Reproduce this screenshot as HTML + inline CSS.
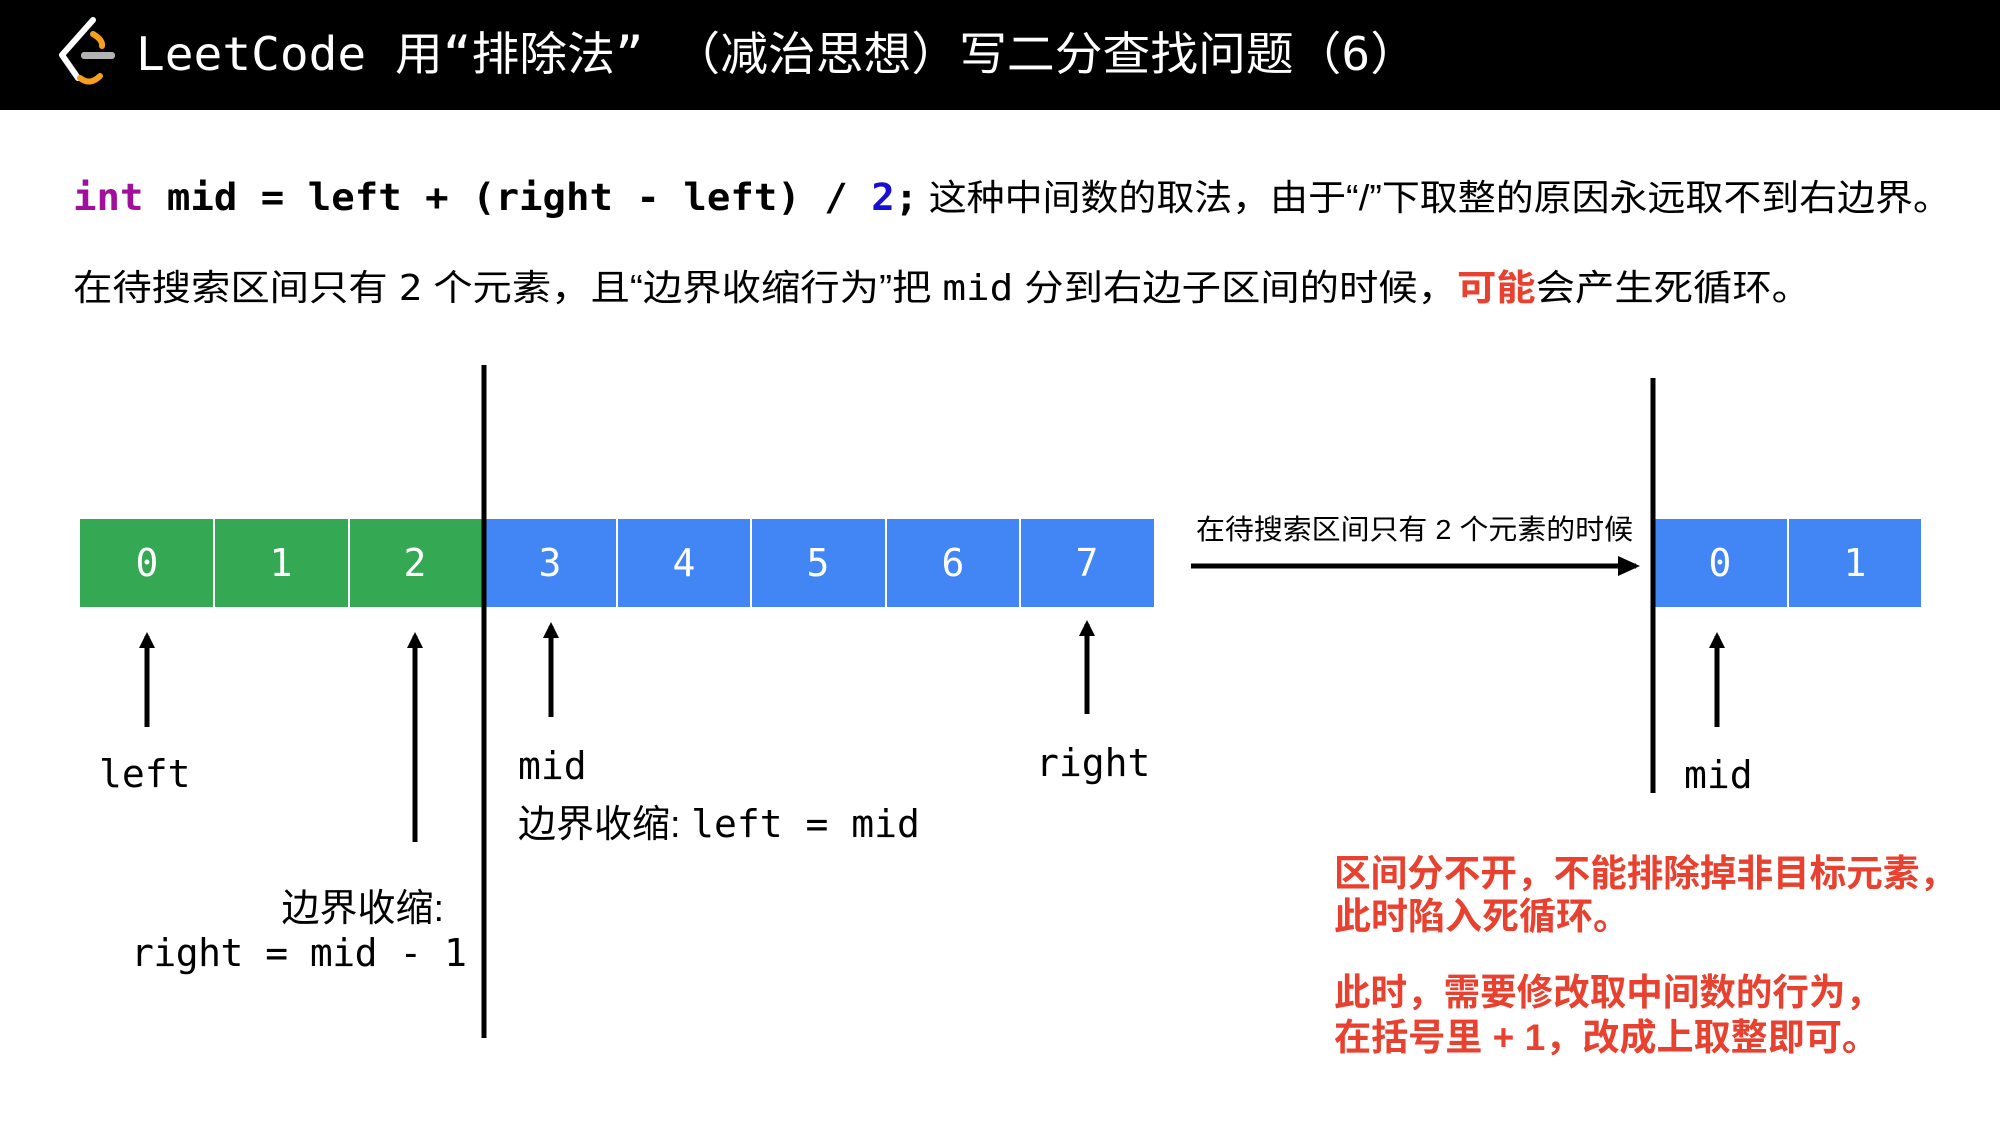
<!DOCTYPE html>
<html><head><meta charset="utf-8"><style>
html,body{margin:0;padding:0;background:#fff;}
svg{display:block;}
text{font-family:"Liberation Sans","Noto Sans CJK SC",sans-serif;}
.mono{font-family:"DejaVu Sans Mono","Liberation Mono","Noto Sans CJK SC",monospace;}
</style></head><body>
<svg width="2000" height="1125" viewBox="0 0 2000 1125" xmlns="http://www.w3.org/2000/svg">
<defs>
<marker id="ah" markerWidth="16" markerHeight="16" refX="12" refY="8" orient="auto" markerUnits="userSpaceOnUse">
<path d="M0,0 L16,8 L0,16 z" fill="#000"/>
</marker>
<marker id="ah2" markerWidth="22" markerHeight="20" refX="18" refY="10" orient="auto" markerUnits="userSpaceOnUse">
<path d="M0,0 L22,10 L0,20 z" fill="#000"/>
</marker>
</defs>
<rect x="0" y="0" width="2000" height="110" fill="#000"/>
<path d="M93,20 L62,55 L78,78" fill="none" stroke="#fff" stroke-width="6" stroke-linecap="round" stroke-linejoin="round"/>
<path d="M93,34 Q103,40 102,46 M80,78 Q90,86 100,76" fill="none" stroke="#f89f1b" stroke-width="6" stroke-linecap="round"/>
<rect x="81" y="52" width="34" height="7" rx="3" fill="#b3b3b3"/>
<text x="136" y="70" font-size="46" fill="#fff" textLength="1282" lengthAdjust="spacingAndGlyphs" class="mono">LeetCode 用“排除法” （减治思想）写二分查找问题（6）</text>

<text x="73" y="210" font-size="37" textLength="1878" lengthAdjust="spacingAndGlyphs"><tspan class="mono" font-weight="bold" fill="#a0109b">int</tspan><tspan class="mono" font-weight="bold" fill="#000"> mid = left + (right - left) / </tspan><tspan class="mono" font-weight="bold" fill="#1a0ed6">2</tspan><tspan class="mono" font-weight="bold" fill="#000">;</tspan><tspan fill="#000" font-size="36"> 这种中间数的取法，由于“/”下取整的原因永远取不到右边界。</tspan></text>

<text x="73" y="300" font-size="36" fill="#000" textLength="1738" lengthAdjust="spacingAndGlyphs">在待搜索区间只有 <tspan class="mono">2</tspan> 个元素，且“边界收缩行为”把 <tspan class="mono">mid</tspan> 分到右边子区间的时候，<tspan fill="#e8412f" font-weight="bold">可能</tspan>会产生死循环。</text>

<g>
<rect x="80" y="519" width="402" height="88" fill="#34a853"/>
<rect x="482" y="519" width="672" height="88" fill="#4285f4"/>
<g stroke="#fff" stroke-width="2">
<line x1="214" y1="519" x2="214" y2="607"/><line x1="349" y1="519" x2="349" y2="607"/>
<line x1="617" y1="519" x2="617" y2="607"/><line x1="751" y1="519" x2="751" y2="607"/>
<line x1="886" y1="519" x2="886" y2="607"/><line x1="1020" y1="519" x2="1020" y2="607"/>
</g>
<g font-size="38" fill="#fff" text-anchor="middle">
<text class="mono" x="147" y="576">0</text><text class="mono" x="281" y="576">1</text><text class="mono" x="415" y="576">2</text>
<text class="mono" x="550" y="576">3</text><text class="mono" x="684" y="576">4</text><text class="mono" x="818" y="576">5</text>
<text class="mono" x="953" y="576">6</text><text class="mono" x="1087" y="576">7</text>
</g>
<rect x="1653" y="519" width="268" height="88" fill="#4285f4"/>
<line x1="1788" y1="519" x2="1788" y2="607" stroke="#fff" stroke-width="2"/>
<g fill="#fff" font-size="38" text-anchor="middle">
<text class="mono" x="1720" y="576">0</text><text class="mono" x="1855" y="576">1</text>
</g>
</g>

<line x1="484" y1="365" x2="484" y2="1038" stroke="#000" stroke-width="5"/>
<line x1="1653" y1="378" x2="1653" y2="793" stroke="#000" stroke-width="5"/>

<g stroke="#000" stroke-width="5" marker-end="url(#ah)">
<line x1="147" y1="727" x2="147" y2="636"/>
<line x1="415" y1="842" x2="415" y2="636"/>
<line x1="551" y1="717" x2="551" y2="626"/>
<line x1="1087" y1="714" x2="1087" y2="624"/>
<line x1="1717" y1="727" x2="1717" y2="636"/>
</g>
<line x1="1191" y1="566" x2="1636" y2="566" stroke="#000" stroke-width="5" marker-end="url(#ah2)"/>
<text x="1196" y="539" font-size="28" fill="#000" textLength="437" lengthAdjust="spacingAndGlyphs">在待搜索区间只有 2 个元素的时候</text>

<g font-size="38" fill="#000">
<text class="mono" x="99" y="787">left</text>
<text class="mono" x="518" y="779">mid</text>
<text x="518" y="837"><tspan>边界收缩: </tspan><tspan class="mono">left = mid</tspan></text>
<text class="mono" x="1036" y="776">right</text>
<text x="444" y="921" text-anchor="end">边界收缩:</text>
<text class="mono" x="131" y="966" textLength="336">right = mid - 1</text>
<text class="mono" x="1684" y="788">mid</text>
</g>

<g font-size="37" font-weight="bold" fill="#e8412f">
<text x="1334" y="886" textLength="622" lengthAdjust="spacingAndGlyphs">区间分不开，不能排除掉非目标元素，</text>
<text x="1334" y="929">此时陷入死循环。</text>
<text x="1334" y="1005" textLength="548" lengthAdjust="spacingAndGlyphs">此时，需要修改取中间数的行为，</text>
<text x="1334" y="1050" textLength="545" lengthAdjust="spacingAndGlyphs">在括号里 + 1，改成上取整即可。</text>
</g>
</svg>
</body></html>
